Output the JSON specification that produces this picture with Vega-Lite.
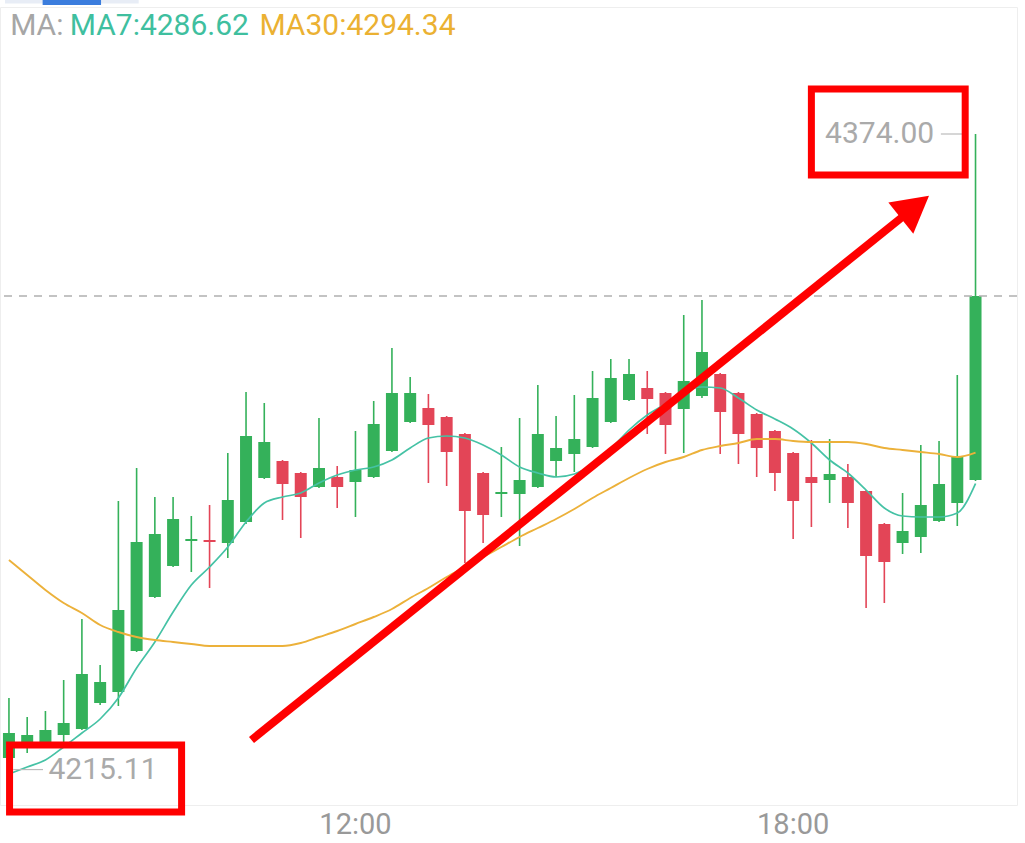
{
  "$schema": "https://vega.github.io/schema/vega-lite/v6.json",
  "width": 1017,
  "height": 798,
  "autosize": {"type": "none"},
  "padding": {"top": 7, "left": 0, "right": 8, "bottom": 38},
  "background": "white",
  "config": {"view": {"stroke": "#eeeeee", "strokeWidth": 1}, "font": "Roboto"},
  "datasets": {
    "candles": [
      {"t": "2024-01-01T07:15:00", "o": 4218, "h": 4233, "l": 4215.11, "c": 4224.25, "ma7": 4214.0, "ma30": 4267.5},
      {"t": "2024-01-01T07:30:00", "o": 4221.75, "h": 4228.25, "l": 4219.25, "c": 4223.75, "ma7": 4215.75, "ma30": 4263.75},
      {"t": "2024-01-01T07:45:00", "o": 4221.75, "h": 4229.75, "l": 4221.5, "c": 4225, "ma7": 4217.5, "ma30": 4260.0},
      {"t": "2024-01-01T08:00:00", "o": 4223.75, "h": 4237.5, "l": 4220.5, "c": 4226.75, "ma7": 4220.75, "ma30": 4256.75},
      {"t": "2024-01-01T08:15:00", "o": 4225.25, "h": 4252.75, "l": 4225, "c": 4239, "ma7": 4224.25, "ma30": 4254.25},
      {"t": "2024-01-01T08:30:00", "o": 4231.75, "h": 4241.25, "l": 4231.25, "c": 4237, "ma7": 4227.75, "ma30": 4251.25},
      {"t": "2024-01-01T08:45:00", "o": 4234.5, "h": 4282.25, "l": 4231, "c": 4255, "ma7": 4233.0, "ma30": 4249.5},
      {"t": "2024-01-01T09:00:00", "o": 4244.75, "h": 4290.5, "l": 4244.5, "c": 4272, "ma7": 4240.5, "ma30": 4248.25},
      {"t": "2024-01-01T09:15:00", "o": 4258.25, "h": 4283.25, "l": 4258, "c": 4274, "ma7": 4247.0, "ma30": 4247.5},
      {"t": "2024-01-01T09:30:00", "o": 4266, "h": 4283.25, "l": 4265.75, "c": 4277.75, "ma7": 4254.5, "ma30": 4247.0},
      {"t": "2024-01-01T09:45:00", "o": 4272.25, "h": 4278.5, "l": 4264.5, "c": 4272.75, "ma7": 4261.25, "ma30": 4246.5},
      {"t": "2024-01-01T10:00:00", "o": 4272.5, "h": 4281.25, "l": 4260.5, "c": 4272, "ma7": 4265.75, "ma30": 4246.0},
      {"t": "2024-01-01T10:15:00", "o": 4271.75, "h": 4294.25, "l": 4268, "c": 4282.5, "ma7": 4270.75, "ma30": 4246.0},
      {"t": "2024-01-01T10:30:00", "o": 4277, "h": 4309.5, "l": 4276.5, "c": 4298.5, "ma7": 4277.0, "ma30": 4246.0},
      {"t": "2024-01-01T10:45:00", "o": 4288, "h": 4306.75, "l": 4287.75, "c": 4297, "ma7": 4281.75, "ma30": 4246.0},
      {"t": "2024-01-01T11:00:00", "o": 4292.25, "h": 4292.5, "l": 4277.5, "c": 4286.5, "ma7": 4283.25, "ma30": 4246.0},
      {"t": "2024-01-01T11:15:00", "o": 4289.25, "h": 4289.5, "l": 4273, "c": 4283.25, "ma7": 4284.25, "ma30": 4246.75},
      {"t": "2024-01-01T11:30:00", "o": 4285.75, "h": 4303, "l": 4285.5, "c": 4290.5, "ma7": 4286.75, "ma30": 4248.25},
      {"t": "2024-01-01T11:45:00", "o": 4288.25, "h": 4291, "l": 4280.5, "c": 4285.75, "ma7": 4288.75, "ma30": 4249.75},
      {"t": "2024-01-01T12:00:00", "o": 4287, "h": 4299.75, "l": 4278.25, "c": 4290, "ma7": 4290.0, "ma30": 4251.5},
      {"t": "2024-01-01T12:15:00", "o": 4288.25, "h": 4307.25, "l": 4288, "c": 4301.5, "ma7": 4290.75, "ma30": 4253.25},
      {"t": "2024-01-01T12:30:00", "o": 4294.75, "h": 4320.5, "l": 4294.5, "c": 4309.25, "ma7": 4292.5, "ma30": 4255.25},
      {"t": "2024-01-01T12:45:00", "o": 4302, "h": 4313.25, "l": 4301.75, "c": 4309.25, "ma7": 4295.5, "ma30": 4258.0},
      {"t": "2024-01-01T13:00:00", "o": 4305.5, "h": 4309, "l": 4286.75, "c": 4301.25, "ma7": 4298.0, "ma30": 4260.5},
      {"t": "2024-01-01T13:15:00", "o": 4303.25, "h": 4303.5, "l": 4286, "c": 4294.5, "ma7": 4298.5, "ma30": 4263.25},
      {"t": "2024-01-01T13:30:00", "o": 4299, "h": 4299.25, "l": 4266.75, "c": 4279.75, "ma7": 4298.0, "ma30": 4265.75},
      {"t": "2024-01-01T13:45:00", "o": 4289.25, "h": 4289.5, "l": 4271.75, "c": 4278.75, "ma7": 4296.25, "ma30": 4268.25},
      {"t": "2024-01-01T14:00:00", "o": 4284, "h": 4295.75, "l": 4278.25, "c": 4284.5, "ma7": 4293.75, "ma30": 4270.75},
      {"t": "2024-01-01T14:15:00", "o": 4284, "h": 4303, "l": 4271, "c": 4287.5, "ma7": 4290.75, "ma30": 4273.25},
      {"t": "2024-01-01T14:30:00", "o": 4285.75, "h": 4311.25, "l": 4285.5, "c": 4299, "ma7": 4289.25, "ma30": 4275.5},
      {"t": "2024-01-01T14:45:00", "o": 4292.25, "h": 4303.5, "l": 4288.25, "c": 4295.5, "ma7": 4288.25, "ma30": 4277.75},
      {"t": "2024-01-01T15:00:00", "o": 4294, "h": 4308.75, "l": 4289.5, "c": 4297.75, "ma7": 4289.0, "ma30": 4280.25},
      {"t": "2024-01-01T15:15:00", "o": 4295.75, "h": 4314.75, "l": 4295.5, "c": 4308, "ma7": 4291.25, "ma30": 4283.0},
      {"t": "2024-01-01T15:30:00", "o": 4302, "h": 4317.75, "l": 4301.75, "c": 4313, "ma7": 4295.25, "ma30": 4285.5},
      {"t": "2024-01-01T15:45:00", "o": 4307.5, "h": 4317.75, "l": 4307.25, "c": 4314, "ma7": 4300.0, "ma30": 4288.0},
      {"t": "2024-01-01T16:00:00", "o": 4310.5, "h": 4314.75, "l": 4299, "c": 4307.75, "ma7": 4303.75, "ma30": 4290.25},
      {"t": "2024-01-01T16:15:00", "o": 4309.25, "h": 4309.5, "l": 4294, "c": 4301.25, "ma7": 4306.5, "ma30": 4292.0},
      {"t": "2024-01-01T16:30:00", "o": 4305.25, "h": 4328.75, "l": 4294.25, "c": 4312.25, "ma7": 4309.5, "ma30": 4293.25},
      {"t": "2024-01-01T16:45:00", "o": 4308.5, "h": 4332.5, "l": 4308, "c": 4319.5, "ma7": 4310.75, "ma30": 4295.0},
      {"t": "2024-01-01T17:00:00", "o": 4314, "h": 4314.25, "l": 4294, "c": 4304.5, "ma7": 4310.5, "ma30": 4296.0},
      {"t": "2024-01-01T17:15:00", "o": 4309.25, "h": 4309.5, "l": 4291.5, "c": 4299, "ma7": 4308.0, "ma30": 4296.75},
      {"t": "2024-01-01T17:30:00", "o": 4304, "h": 4304.25, "l": 4288.25, "c": 4295.5, "ma7": 4305.0, "ma30": 4297.75},
      {"t": "2024-01-01T17:45:00", "o": 4299.75, "h": 4300, "l": 4284.75, "c": 4289.25, "ma7": 4302.75, "ma30": 4297.75},
      {"t": "2024-01-01T18:00:00", "o": 4294.25, "h": 4294.5, "l": 4272.75, "c": 4282.25, "ma7": 4300.25, "ma30": 4297.25},
      {"t": "2024-01-01T18:15:00", "o": 4288.25, "h": 4297.5, "l": 4275.75, "c": 4286.75, "ma7": 4296.75, "ma30": 4297.0},
      {"t": "2024-01-01T18:30:00", "o": 4287.5, "h": 4297.75, "l": 4281.75, "c": 4289, "ma7": 4292.5, "ma30": 4297.0},
      {"t": "2024-01-01T18:45:00", "o": 4288.25, "h": 4291.5, "l": 4275.5, "c": 4281.75, "ma7": 4289.25, "ma30": 4297.0},
      {"t": "2024-01-01T19:00:00", "o": 4284.75, "h": 4285, "l": 4255.5, "c": 4268.5, "ma7": 4285.0, "ma30": 4296.5},
      {"t": "2024-01-01T19:15:00", "o": 4276.5, "h": 4276.75, "l": 4256.75, "c": 4267, "ma7": 4280.5, "ma30": 4295.5},
      {"t": "2024-01-01T19:30:00", "o": 4271.75, "h": 4284.25, "l": 4269, "c": 4274.75, "ma7": 4278.5, "ma30": 4295.0},
      {"t": "2024-01-01T19:45:00", "o": 4273.25, "h": 4296.25, "l": 4269.25, "c": 4281.25, "ma7": 4278.25, "ma30": 4294.5},
      {"t": "2024-01-01T20:00:00", "o": 4277.25, "h": 4297.25, "l": 4277, "c": 4286.5, "ma7": 4278.25, "ma30": 4294.0},
      {"t": "2024-01-01T20:15:00", "o": 4281.75, "h": 4313.75, "l": 4276, "c": 4293.25, "ma7": 4279.25, "ma30": 4293.25},
      {"t": "2024-01-01T20:30:00", "o": 4287.5, "h": 4374, "l": 4287.25, "c": 4333.5, "ma7": 4286.62, "ma30": 4294.34}
    ],
    "timeLabels": [
      {"t": "2024-01-01T12:00:00", "p": 4201.25},
      {"t": "2024-01-01T18:00:00", "p": 4201.25}
    ],
    "header": [
      {"t": "2024-01-01T07:16:00", "p": 4398.75, "label": "MA:", "kind": "MA"},
      {"t": "2024-01-01T08:05:00", "p": 4398.75, "label": "MA7:4286.62", "kind": "MA7"},
      {"t": "2024-01-01T10:41:00", "p": 4398.75, "label": "MA30:4294.34", "kind": "MA30"}
    ],
    "highLabel": [{"t": "2024-01-01T19:56:00", "p": 4374, "label": "4374.00"}],
    "lowLabel": [{"t": "2024-01-01T07:47:30", "p": 4215.11, "label": "4215.11"}],
    "markerLines": [
      {"t1": "2024-01-01T20:01:30", "t2": "2024-01-01T20:22:45", "p": 4374},
      {"t1": "2024-01-01T07:18:30", "t2": "2024-01-01T07:43:00", "p": 4215.11}
    ],
    "lastPrice": [{"p": 4333.5}],
    "boxes": [
      {"t1": "2024-01-01T18:15:00", "t2": "2024-01-01T20:21:30", "p1": 4385.25, "p2": 4363.75},
      {"t1": "2024-01-01T07:15:30", "t2": "2024-01-01T09:37:00", "p1": 4221.25, "p2": 4204.5}
    ],
    "arrow": [{"t1": "2024-01-01T10:34:30", "t2": "2024-01-01T19:32:51", "p1": 4222.5, "p2": 4354}],
    "arrowHead": [{"t": "2024-01-01T19:40:09", "p": 4355.75}],
    "tabs": [
      {"t1": "2024-01-01T07:11:45", "t2": "2024-01-01T09:01:42", "p1": 4407.5, "p2": 4406.6, "kind": "bar"},
      {"t1": "2024-01-01T07:42:42", "t2": "2024-01-01T08:30:45", "p1": 4407.5, "p2": 4406.25, "kind": "tab"}
    ]
  },
  "encoding": {
    "x": {"field": "t", "type": "temporal", "title": null,
      "scale": {"domain": [{"year": 2024, "month": 1, "date": 1, "hours": 7, "minutes": 11, "seconds": 45}, {"year": 2024, "month": 1, "date": 1, "hours": 21, "minutes": 0}], "nice": false},
      "axis": null},
    "y": {"field": "l", "type": "quantitative", "title": null,
      "scale": {"domain": [4206.25, 4405.75], "nice": false, "zero": false},
      "axis": {"values": [4220, 4240, 4260, 4280, 4300, 4320, 4340, 4360], "grid": true, "gridColor": "#f0f0f0", "labels": false, "ticks": false, "domain": false}}
  },
  "layer": [
    {
      "data": {"name": "candles"},
      "mark": {"type": "rule", "strokeWidth": 1.6},
      "encoding": {
        "y2": {"field": "h"},
        "color": {"condition": {"test": "datum.c >= datum.o", "value": "#34b15a"}, "value": "#e34557"}
      }
    },
    {
      "data": {"name": "candles"},
      "mark": {"type": "bar", "size": 12},
      "encoding": {
        "y": {"field": "o", "type": "quantitative", "scale": {"domain": [4206.25, 4405.75], "nice": false, "zero": false}, "axis": null},
        "y2": {"field": "c"},
        "color": {"condition": {"test": "datum.c >= datum.o", "value": "#34b15a"}, "value": "#e34557"}
      }
    },
    {
      "data": {"name": "candles"},
      "mark": {"type": "line", "color": "#45c2a5", "strokeWidth": 1.7, "interpolate": "monotone"},
      "encoding": {
        "y": {"field": "ma7", "type": "quantitative", "scale": {"domain": [4206.25, 4405.75], "nice": false, "zero": false}, "axis": null}
      }
    },
    {
      "data": {"name": "candles"},
      "mark": {"type": "line", "color": "#ecb13a", "strokeWidth": 1.9, "interpolate": "monotone"},
      "encoding": {
        "y": {"field": "ma30", "type": "quantitative", "scale": {"domain": [4206.25, 4405.75], "nice": false, "zero": false}, "axis": null}
      }
    },
    {
      "data": {"name": "lastPrice"},
      "mark": {"type": "rule", "color": "#b0b0b0", "strokeWidth": 1.5, "strokeDash": [8, 7]},
      "encoding": {
        "x": null,
        "y": {"field": "p", "type": "quantitative", "scale": {"domain": [4206.25, 4405.75], "nice": false, "zero": false}, "axis": null}
      }
    },
    {
      "data": {"name": "timeLabels"},
      "mark": {"type": "text", "align": "center", "baseline": "middle", "fontSize": 29, "color": "#999999", "font": "Roboto"},
      "encoding": {
        "y": {"field": "p", "type": "quantitative", "scale": {"domain": [4206.25, 4405.75], "nice": false, "zero": false}, "axis": null},
        "text": {"field": "t", "type": "temporal", "format": "%H:%M"}
      }
    },
    {
      "data": {"name": "markerLines"},
      "mark": {"type": "rule", "color": "#bbbbbb", "strokeWidth": 1.2},
      "encoding": {
        "x": {"field": "t1", "type": "temporal", "scale": {"domain": [{"year": 2024, "month": 1, "date": 1, "hours": 7, "minutes": 11, "seconds": 45}, {"year": 2024, "month": 1, "date": 1, "hours": 21, "minutes": 0}], "nice": false}, "axis": null},
        "x2": {"field": "t2"},
        "y": {"field": "p", "type": "quantitative", "scale": {"domain": [4206.25, 4405.75], "nice": false, "zero": false}, "axis": null}
      }
    },
    {
      "data": {"name": "highLabel"},
      "mark": {"type": "text", "align": "right", "baseline": "middle", "fontSize": 30, "color": "#aaaaaa", "font": "Roboto"},
      "encoding": {
        "y": {"field": "p", "type": "quantitative", "scale": {"domain": [4206.25, 4405.75], "nice": false, "zero": false}, "axis": null},
        "text": {"field": "label"}
      }
    },
    {
      "data": {"name": "lowLabel"},
      "mark": {"type": "text", "align": "left", "baseline": "middle", "fontSize": 30, "color": "#aaaaaa", "font": "Roboto"},
      "encoding": {
        "y": {"field": "p", "type": "quantitative", "scale": {"domain": [4206.25, 4405.75], "nice": false, "zero": false}, "axis": null},
        "text": {"field": "label"}
      }
    },
    {
      "data": {"name": "header"},
      "mark": {"type": "text", "align": "left", "baseline": "alphabetic", "fontSize": 30, "font": "Roboto"},
      "encoding": {
        "y": {"field": "p", "type": "quantitative", "scale": {"domain": [4206.25, 4405.75], "nice": false, "zero": false}, "axis": null},
        "text": {"field": "label"},
        "color": {"field": "kind", "type": "nominal", "scale": {"domain": ["MA", "MA7", "MA30"], "range": ["#a6a6a6", "#3fbf9f", "#ebb132"]}, "legend": null}
      }
    },
    {
      "data": {"name": "tabs"},
      "mark": {"type": "rect"},
      "encoding": {
        "x": {"field": "t1", "type": "temporal", "scale": {"domain": [{"year": 2024, "month": 1, "date": 1, "hours": 7, "minutes": 11, "seconds": 45}, {"year": 2024, "month": 1, "date": 1, "hours": 21, "minutes": 0}], "nice": false}, "axis": null},
        "x2": {"field": "t2"},
        "y": {"field": "p1", "type": "quantitative", "scale": {"domain": [4206.25, 4405.75], "nice": false, "zero": false}, "axis": null},
        "y2": {"field": "p2"},
        "fill": {"condition": {"test": "datum.kind === 'tab'", "value": "#3b7ddd"}, "value": "#e8edf6"}
      }
    },
    {
      "data": {"name": "boxes"},
      "mark": {"type": "rect", "filled": false, "stroke": "#ff0000", "strokeWidth": 7, "strokeJoin": "miter"},
      "encoding": {
        "x": {"field": "t1", "type": "temporal", "scale": {"domain": [{"year": 2024, "month": 1, "date": 1, "hours": 7, "minutes": 11, "seconds": 45}, {"year": 2024, "month": 1, "date": 1, "hours": 21, "minutes": 0}], "nice": false}, "axis": null},
        "x2": {"field": "t2"},
        "y": {"field": "p1", "type": "quantitative", "scale": {"domain": [4206.25, 4405.75], "nice": false, "zero": false}, "axis": null},
        "y2": {"field": "p2"}
      }
    },
    {
      "data": {"name": "arrow"},
      "mark": {"type": "rule", "color": "#ff0000", "strokeWidth": 8, "strokeCap": "butt"},
      "encoding": {
        "x": {"field": "t1", "type": "temporal", "scale": {"domain": [{"year": 2024, "month": 1, "date": 1, "hours": 7, "minutes": 11, "seconds": 45}, {"year": 2024, "month": 1, "date": 1, "hours": 21, "minutes": 0}], "nice": false}, "axis": null},
        "x2": {"field": "t2"},
        "y": {"field": "p1", "type": "quantitative", "scale": {"domain": [4206.25, 4405.75], "nice": false, "zero": false}, "axis": null},
        "y2": {"field": "p2"}
      }
    },
    {
      "data": {"name": "arrowHead"},
      "mark": {"type": "point", "shape": "M0,-0.9L1,0.9L-1,0.9Z", "size": 1600, "angle": 51.5, "filled": true, "color": "#ff0000", "opacity": 1, "strokeWidth": 0},
      "encoding": {
        "y": {"field": "p", "type": "quantitative", "scale": {"domain": [4206.25, 4405.75], "nice": false, "zero": false}, "axis": null}
      }
    }
  ]
}
